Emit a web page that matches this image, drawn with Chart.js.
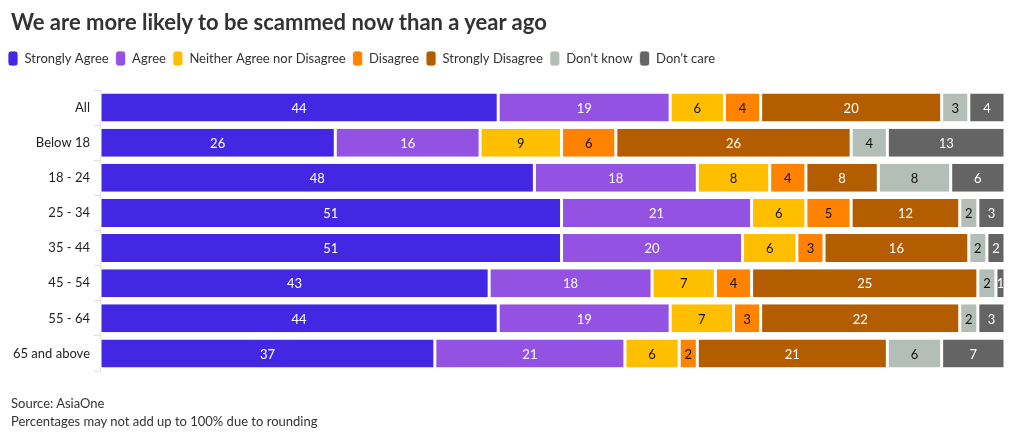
<!DOCTYPE html>
<html>
<head>
<meta charset="utf-8">
<script src="https://cdn.jsdelivr.net/npm/chart.js@4"></script>
<style>
  html, body { margin: 0; padding: 0; background: #fff; }
  #wrap { position: relative; width: 1020px; height: 440px; font-family: Lato, sans-serif; color: #333; }
  #title { position: absolute; left: 11px; top: 8px; font-size: 22px; font-weight: bold; color: #333; white-space: nowrap; }
  #footer { position: absolute; left: 11px; top: 394px; font-size: 13px; line-height: 18px; color: #333; }
  canvas { position: absolute; left: 0; top: 0; }
</style>
</head>
<body>
<div id="wrap">
  <canvas id="c" width="1020" height="440"></canvas>
  <div id="title">We are more likely to be scammed now than a year ago</div>
  <div id="footer">Source: AsiaOne<br>Percentages may not add up to 100% due to rounding</div>
</div>
<script>
const categories = ['All', 'Below 18', '18 - 24', '25 - 34', '35 - 44', '45 - 54', '55 - 64', '65 and above'];
const seriesNames = ['Strongly Agree', 'Agree', 'Neither Agree nor Disagree', 'Disagree', 'Strongly Disagree', "Don't know", "Don't care"];
const stronglyAgree    = [44, 26, 48, 51, 51, 43, 44, 37];
const agree            = [19, 16, 18, 21, 20, 18, 19, 21];
const neither          = [6, 9, 8, 6, 6, 7, 7, 6];
const disagree         = [4, 6, 4, 5, 3, 4, 3, 2];
const stronglyDisagree = [20, 26, 8, 12, 16, 25, 22, 21];
const dontKnow         = [3, 4, 8, 2, 2, 2, 2, 6];
const dontCare         = [4, 13, 6, 3, 2, 1, 3, 7];

const seriesValues = [stronglyAgree, agree, neither, disagree, stronglyDisagree, dontKnow, dontCare];
const colors = ['#4327e3', '#9352e2', '#ffbf00', '#ff8200', '#b35d00', '#b4beb8', '#646464'];
const labelColors = ['#ffffff', '#ffffff', '#111111', '#111111', '#ffffff', '#111111', '#ffffff'];

const datasets = seriesNames.map((name, i) => ({
  label: name,
  data: seriesValues[i],
  backgroundColor: colors[i],
  borderColor: '#ffffff',
  borderWidth: { left: 1.5, right: 1.5, top: 0, bottom: 0 },
  borderSkipped: false,
  barPercentage: 0.8,
  categoryPercentage: 1.0,
  labelColor: labelColors[i]
}));

const valueLabels = {
  id: 'valueLabels',
  afterDatasetsDraw(chart) {
    const ctx = chart.ctx;
    ctx.save();
    ctx.font = '13px Lato, sans-serif';
    ctx.textAlign = 'center';
    ctx.textBaseline = 'middle';
    chart.data.datasets.forEach((ds, di) => {
      const meta = chart.getDatasetMeta(di);
      if (meta.hidden) return;
      meta.data.forEach((el, i) => {
        const v = ds.data[i];
        if (!v) return;
        ctx.fillStyle = ds.labelColor;
        ctx.fillText(String(v), (el.x + el.base) / 2, el.y + 1);
      });
    });
    ctx.restore();
  }
};

const legendSpacing = {
  id: 'legendSpacing',
  beforeInit(chart) {
    const legend = chart.legend;
    if (!legend) return;
    const origFit = legend.fit;
    legend.fit = function () {
      origFit.call(this);
      this.height += 14;
    };
  }
};

new Chart(document.getElementById('c'), {
  type: 'bar',
  data: { labels: categories, datasets },
  options: {
    indexAxis: 'y',
    responsive: false,
    animation: false,
    layout: { padding: { top: 44, left: 1, right: 15, bottom: 69 } },
    plugins: {
      title: { display: false },
      tooltip: { enabled: false },
      legend: {
        position: 'top',
        align: 'start',
        labels: {
          boxWidth: 10,
          boxHeight: 15,
          useBorderRadius: true,
          borderRadius: 3,
          padding: 7,
          color: '#333',
          font: { family: 'Lato, sans-serif', size: 13 }
        }
      }
    },
    scales: {
      x: { stacked: true, min: 0, max: 100, display: false },
      y: {
        stacked: true,
        afterFit: (s) => { s.width = 99; },
        border: { display: true, color: '#e0e0e0' },
        grid: { display: true, drawOnChartArea: false, drawTicks: true, tickLength: 6, color: '#e0e0e0' },
        ticks: { color: '#222', padding: 4, font: { family: 'Lato, sans-serif', size: 13 } }
      }
    }
  },
  plugins: [legendSpacing, valueLabels]
});
</script>
</body>
</html>
